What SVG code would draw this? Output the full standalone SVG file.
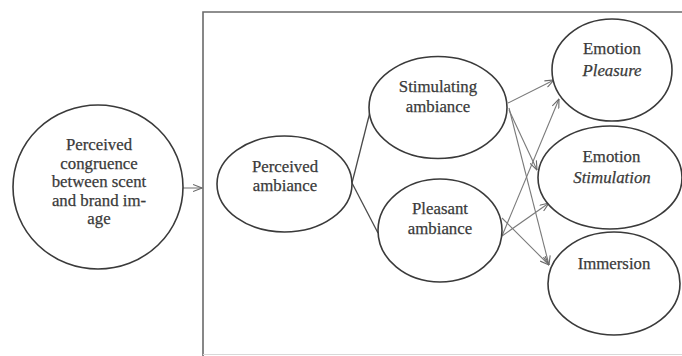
<svg xmlns="http://www.w3.org/2000/svg" width="682" height="356" viewBox="0 0 682 356">
  <style>
    .node ellipse { fill: #ffffff; stroke: #3a3a3a; stroke-width: 1.6; }
    .node text { font-family: "Liberation Serif", "Times New Roman", serif; font-size: 16.8px; fill: #3a3a3a; stroke: #3a3a3a; stroke-width: 0.25; text-anchor: middle; }
    .node text.it { font-style: italic; }
    .frame { fill: none; stroke: #6a6a6a; stroke-width: 1.6; }
    .link { fill: none; stroke: #4a4a4a; stroke-width: 1.3; }
    .arrow { fill: none; stroke: #7a7a7a; stroke-width: 1.1; marker-end: url(#head); }
  </style>
  <defs>
    <marker id="head" viewBox="0 0 10 8" refX="9.5" refY="4" markerWidth="10" markerHeight="8" markerUnits="userSpaceOnUse" orient="auto">
      <path d="M0.5,0.5 L9.5,4 L0.5,7.5" fill="none" stroke="#6a6a6a" stroke-width="1.1"/>
    </marker>
  </defs>

  <rect width="682" height="356" fill="#ffffff"/>

  <!-- frame around the ambiance model (open on the right) -->
  <path class="frame" d="M203,356 L203,12 L682,12"/>
  <path d="M203,354.5 L682,354.5" fill="none" stroke="#d8d8d8" stroke-width="1"/>

  <g id="connectors">
    <line class="arrow" x1="183" y1="188" x2="202" y2="188"/>
    <line class="link" x1="352" y1="183" x2="370" y2="112"/>
    <line class="link" x1="352" y1="183" x2="378" y2="233"/>
    <line class="arrow" x1="508" y1="103" x2="554" y2="80"/>
    <line class="arrow" x1="509" y1="110" x2="537" y2="170"/>
    <line class="arrow" x1="509" y1="108" x2="549" y2="265"/>
    <line class="arrow" x1="502" y1="236" x2="559" y2="99"/>
    <line class="arrow" x1="502" y1="236" x2="549" y2="203"/>
    <line class="arrow" x1="502" y1="218" x2="549" y2="265"/>
  </g>

  <g id="congruence" class="node">
    <ellipse cx="98" cy="187" rx="85" ry="82"/>
    <text x="99" y="150">Perceived</text>
    <text x="99" y="168.5">congruence</text>
    <text x="99" y="187">between scent</text>
    <text x="99" y="205.5">and brand im-</text>
    <text x="99" y="224">age</text>
  </g>

  <g id="perceived-ambiance" class="node">
    <ellipse cx="284.5" cy="184" rx="67.5" ry="48"/>
    <text x="285" y="172">Perceived</text>
    <text x="285" y="190.5">ambiance</text>
  </g>

  <g id="stimulating-ambiance" class="node">
    <ellipse cx="438" cy="107.5" rx="69" ry="51"/>
    <text x="438" y="92">Stimulating</text>
    <text x="438" y="111.5">ambiance</text>
  </g>

  <g id="pleasant-ambiance" class="node">
    <ellipse cx="440" cy="230.5" rx="62" ry="51.5"/>
    <text x="440" y="214">Pleasant</text>
    <text x="440" y="233.5">ambiance</text>
  </g>

  <g id="emotion-pleasure" class="node">
    <ellipse cx="612" cy="70" rx="60" ry="51"/>
    <text x="612" y="54">Emotion</text>
    <text x="612" y="75.5" class="it">Pleasure</text>
  </g>

  <g id="emotion-stimulation" class="node">
    <ellipse cx="610" cy="177.5" rx="72" ry="51.5"/>
    <text x="611.5" y="162">Emotion</text>
    <text x="612" y="182.5" class="it">Stimulation</text>
  </g>

  <g id="immersion" class="node">
    <ellipse cx="614" cy="283.5" rx="66" ry="51.5"/>
    <text x="614" y="269">Immersion</text>
  </g>
</svg>
